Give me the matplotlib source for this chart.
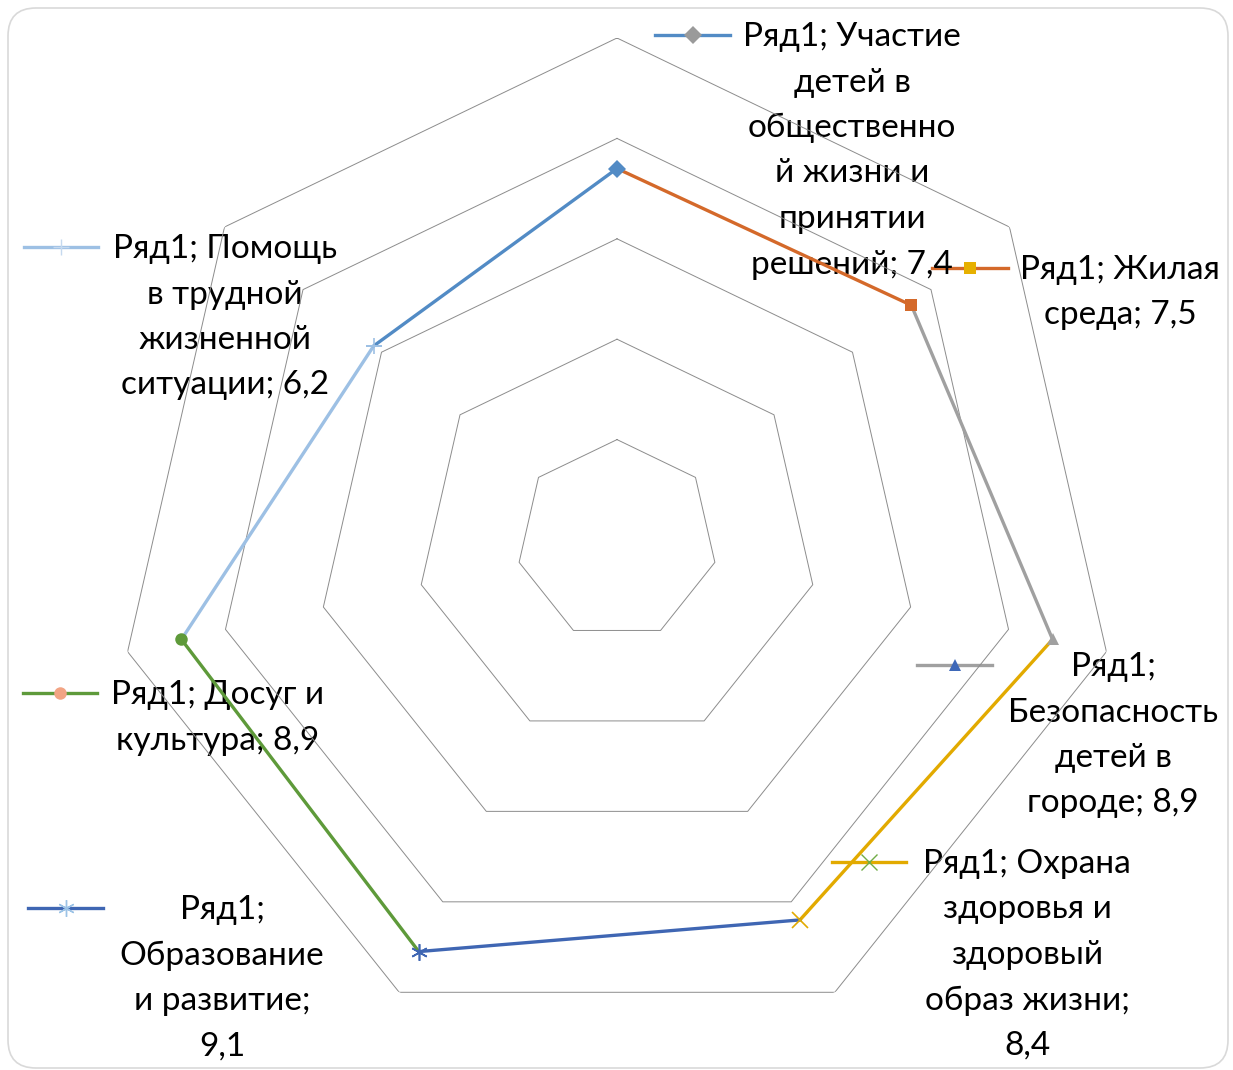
import numpy as np
import matplotlib.pyplot as plt
from matplotlib.patches import FancyBboxPatch

plt.rcParams['font.family'] = ['Lato', 'DejaVu Sans']

categories = [
    "Участие детей в общественной жизни и принятии решений",
    "Жилая среда",
    "Безопасность детей в городе",
    "Охрана здоровья и здоровый образ жизни",
    "Образование и развитие",
    "Досуг и культура",
    "Помощь в трудной жизненной ситуации",
]
values = [7.4, 7.5, 8.9, 8.4, 9.1, 8.9, 6.2]
value_labels = ["7,4", "7,5", "8,9", "8,4", "9,1", "8,9", "6,2"]
grid_levels = [2, 4, 6, 8, 10]

# legend text, wrapped as in the picture
legend_texts = [
    "Ряд1; Участие\nдетей в\nобщественно\nй жизни и\nпринятии\nрешений; 7,4",
    "Ряд1; Жилая\nсреда; 7,5",
    "Ряд1;\nБезопасность\nдетей в\nгороде; 8,9",
    "Ряд1; Охрана\nздоровья и\nздоровый\nобраз жизни;\n8,4",
    "Ряд1;\nОбразование\nи развитие;\n9,1",
    "Ряд1; Досуг и\nкультура; 8,9",
    "Ряд1; Помощь\nв трудной\nжизненной\nситуации; 6,2",
]

line_colors = ['#528BC5', '#D4692A', '#A0A0A0', '#E2AA00', '#3F66B3', '#5E9A3A', '#9DC0E4']
point_markers = ['D', 's', '^', 'x', (6, 2, 0), 'o', '+']
legend_marker_colors = ['#9A9A9A', '#E6B000', '#3E68B8', '#70AD47', '#9CC3E6', '#F2A484', '#C5D9EF']
legend_markers = ['D', 's', '^', 'x', (6, 2, 0), 'o', '+']

W, H = 1233, 1070
fig = plt.figure(figsize=(W / 100, H / 100), dpi=100)

# frame
bg = fig.add_axes([0, 0, 1, 1])
bg.set_xlim(0, W)
bg.set_ylim(H, 0)
bg.axis('off')
bg.add_patch(FancyBboxPatch((8, 8), 1220, 1060, boxstyle="round,pad=0,rounding_size=28",
                            fc='white', ec='#D9D9D9', lw=1.2))

# radar
cx, cy, R = 617, 540, 502
ax = fig.add_axes([(cx - R) / W, (H - cy - R) / H, 2 * R / W, 2 * R / H], projection='polar')
ax.set_theta_offset(np.pi / 2)
ax.set_theta_direction(-1)
ax.set_ylim(0, 10)
ax.axis('off')
ax.patch.set_alpha(0)

n = len(categories)
theta = np.arange(n) * 2 * np.pi / n
closed = np.append(theta, theta[0])
for lev in grid_levels:
    ax.plot(closed, [lev] * (n + 1), color='#8C8C8C', lw=0.7, zorder=1)


def is_open(m):
    return m in ('x', '+') or isinstance(m, tuple)


# each segment takes the colour of the point it leads to
for i in range(n):
    j = (i + 1) % n
    ax.plot([theta[i], theta[j]], [values[i], values[j]], color=line_colors[j],
            lw=2.4, solid_capstyle='round', zorder=3)
for i in range(n):
    m = point_markers[i]
    ax.plot(theta[i], values[i], marker=m, color=line_colors[i],
            ms=12 if is_open(m) else 9, mew=1.2 if is_open(m) else 0,
            zorder=4, ls='none')

# legend entries scattered round the chart (pixel positions)
leg_pos = [
    (655, 730, 35, 852, 37),
    (932, 1008, 268, 1120, 270),
    (917, 992, 665, 1113, 667),
    (832, 906, 862, 1027, 864),
    (28, 103, 908, 222, 910),
    (23, 97, 693, 218, 695),
    (24, 98, 247, 225, 249),
]
step = 45.5
for k, (x0, x1, ly, tx, ty) in enumerate(leg_pos):
    bg.plot([x0, x1], [ly, ly], color=line_colors[k], lw=2.4, zorder=5)
    m = legend_markers[k]
    bg.plot((x0 + x1) / 2, ly, marker=m, color=legend_marker_colors[k],
            ms=12 if is_open(m) else 9, mew=1.0 if is_open(m) else 0, zorder=6)
    for r, line in enumerate(legend_texts[k].split('\n')):
        bg.text(tx, ty + r * step, line, ha='center', va='center', fontsize=24,
                color='black', zorder=7)

fig.savefig('out.png', dpi=100)
